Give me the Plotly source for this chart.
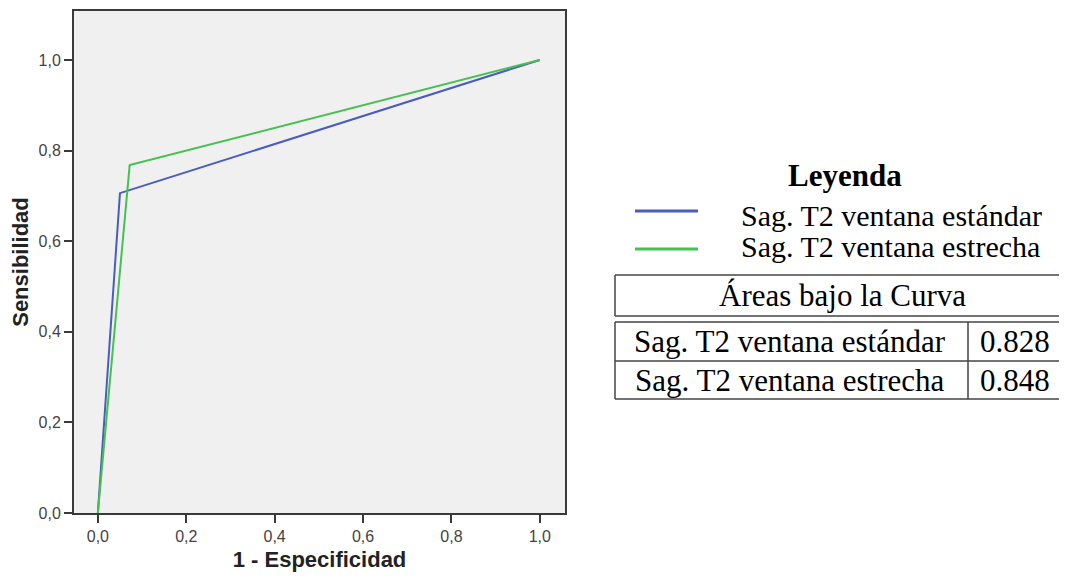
import plotly.graph_objects as go

# ---- data ----
series_names = ["Sag. T2 ventana estándar", "Sag. T2 ventana estrecha"]
fpr_estandar = [0.0, 0.05, 1.0]
tpr_estandar = [0.0, 0.706, 1.0]
fpr_estrecha = [0.0, 0.072, 1.0]
tpr_estrecha = [0.0, 0.768, 1.0]
auc_values = ["0.828", "0.848"]
tick_vals = [0.0, 0.2, 0.4, 0.6, 0.8, 1.0]
colors = ["#4a5cbc", "#45c150"]

# page body has an 8px default margin: compensate so the screenshot matches
OFF = 8
W, H = 1067 - OFF, 580 - 2 * OFF
ML, MT = 74 - OFF, 11 - OFF
PLOT_B = 513 - OFF
PLOT_R = 565 - OFF
MB = H - PLOT_B
PW = W - ML
PH = H - MT - MB


def X(p):
    return (p - OFF - ML) / PW


def Y(p):
    return (PLOT_B - (p - OFF)) / PH


fig = go.Figure()
fig.add_trace(go.Scatter(x=fpr_estandar, y=tpr_estandar, mode="lines",
                         line=dict(color=colors[0], width=2),
                         name=series_names[0], showlegend=False))
fig.add_trace(go.Scatter(x=fpr_estrecha, y=tpr_estrecha, mode="lines",
                         line=dict(color=colors[1], width=2),
                         name=series_names[1], showlegend=False))

axis_common = dict(
    showline=True, linecolor="#3a3a3a", linewidth=2, mirror=True,
    ticks="outside", ticklen=8, tickwidth=2, tickcolor="#3a3a3a",
    showgrid=False, zeroline=False, tickvals=tick_vals, tickformat=".1f",
    automargin=False,
    tickfont=dict(family="Liberation Sans, Arial", size=16, color="#444"),
)

fig.update_layout(
    width=W, height=H,
    margin=dict(l=ML, r=0, t=MT, b=MB, autoexpand=False),
    paper_bgcolor="white", plot_bgcolor="#f0f0f0",
    separators=",.",
    xaxis=dict(range=[-0.054, 1.057], domain=[0, (PLOT_R - ML) / PW],
               title=dict(text="<b>1 - Especificidad</b>", standoff=10,
                          font=dict(family="Liberation Sans, Arial", size=22, color="#222")),
               **axis_common),
    yaxis=dict(range=[0, 1.108],
               title=dict(text="<b>Sensibilidad</b>", standoff=4,
                          font=dict(family="Liberation Sans, Arial", size=22, color="#222")),
               **axis_common),
)

serif = "Liberation Serif, Times New Roman, serif"
TS = 31
TL = 30
ann = []
ann.append(dict(text="<b>Leyenda</b>", x=X(845), y=Y(175), xref="paper", yref="paper",
                xanchor="center", yanchor="middle", showarrow=False,
                font=dict(family=serif, size=TS, color="black")))
legend_rows_y = [215, 246]
line_rows_y = [211, 249]
shapes = []
for i, name in enumerate(series_names):
    ann.append(dict(text=name, x=X(739), y=Y(legend_rows_y[i]), xref="paper", yref="paper",
                    xanchor="left", yanchor="middle", showarrow=False,
                    font=dict(family=serif, size=TL, color="black")))
    shapes.append(dict(type="line", xref="paper", yref="paper",
                       x0=X(635), x1=X(698), y0=Y(line_rows_y[i]), y1=Y(line_rows_y[i]),
                       line=dict(color=colors[i], width=3)))

bc = "#444"
TL_X0, TL_X1 = 615, 1090


def hline(py):
    shapes.append(dict(type="line", xref="paper", yref="paper", x0=X(TL_X0), x1=X(TL_X1),
                       y0=Y(py), y1=Y(py), line=dict(color=bc, width=1.5)))


def vline(px, py0, py1):
    shapes.append(dict(type="line", xref="paper", yref="paper", x0=X(px), x1=X(px),
                       y0=Y(py0), y1=Y(py1), line=dict(color=bc, width=1.5)))


# header box (open at the right edge, cut by the picture border)
hline(275)
hline(316)
vline(TL_X0, 275, 316)
ann.append(dict(text="Áreas bajo la Curva", x=X(842), y=Y(296), xref="paper", yref="paper",
                xanchor="center", yanchor="middle", showarrow=False,
                font=dict(family=serif, size=TS, color="black")))
# values table
hline(322)
hline(361)
hline(399)
vline(TL_X0, 322, 399)
vline(968, 322, 399)
row_y = [341, 380]
for i, name in enumerate(series_names):
    ann.append(dict(text=name, x=X(790), y=Y(row_y[i]), xref="paper", yref="paper",
                    xanchor="center", yanchor="middle", showarrow=False,
                    font=dict(family=serif, size=TS, color="black")))
    ann.append(dict(text=auc_values[i], x=X(1015), y=Y(row_y[i]), xref="paper", yref="paper",
                    xanchor="center", yanchor="middle", showarrow=False,
                    font=dict(family=serif, size=TS, color="black")))

fig.update_layout(annotations=ann, shapes=shapes)
fig.write_html("out.html")
